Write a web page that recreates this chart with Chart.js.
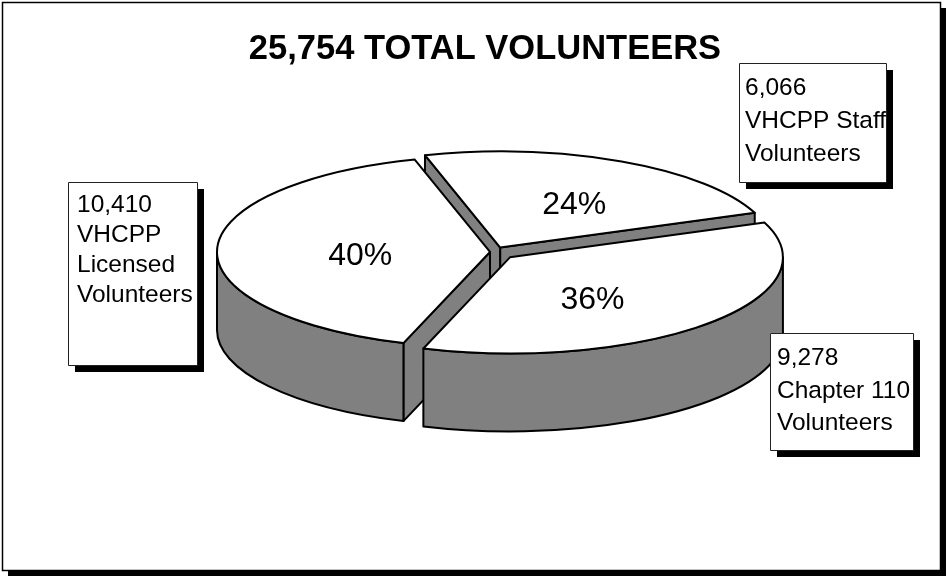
<!DOCTYPE html>
<html>
<head>
<meta charset="utf-8">
<script src="https://cdn.jsdelivr.net/npm/chart.js@4.4.1/dist/chart.umd.min.js"></script>
<style>
html,body{margin:0;padding:0;background:#fff;}
canvas{display:block;}
</style>
</head>
<body>
<canvas id="c" width="947" height="577" style="width:947px;height:577px;"></canvas>
<script>
// ---- data ----
const titleText = '25,754 TOTAL VOLUNTEERS';
const categories = ['VHCPP Staff Volunteers', 'Chapter 110 Volunteers', 'VHCPP Licensed Volunteers'];
const volunteers = [6066, 9278, 10410];
const percentLabels = ['24%', '36%', '40%'];
const boxLines = [
  ['6,066', 'VHCPP Staff', 'Volunteers'],
  ['9,278', 'Chapter 110', 'Volunteers'],
  ['10,410', 'VHCPP', 'Licensed', 'Volunteers']
];

// ---- style / layout ----
const FONT = '"Liberation Sans", Arial, Helvetica, sans-serif';
const CY = 252;          // vertical centre of the tilted pie
const K = 0.352;         // vertical squash of the pie plane
const DEPTH = 78;        // thickness of the pie in pixels
const explode = [14, 22, 4];
const labelFrac = [0.54, 0.516, 0.476];
const labelShift = [3.7, 10.5, -3.5];   // degrees
const WALL = '#808080';
const boxes = [
  {x: 739, y: 63, w: 147, h: 119, tx: 745, first: 95, step: 33},
  {x: 770, y: 333, w: 143, h: 117, tx: 777, first: 365, step: 32.5},
  {x: 68, y: 182, w: 129, h: 183, tx: 77, first: 212, step: 30}
];

function sy(y) { return CY + (y - CY) * K; }

const pie3d = {
  id: 'pie3d',
  afterUpdate(chart) {
    const meta = chart.getDatasetMeta(0);
    meta.data.forEach((arc, i) => {
      const mid = (arc.startAngle + arc.endAngle) / 2;
      arc.x += Math.cos(mid) * explode[i];
      arc.y += Math.sin(mid) * explode[i];
    });
  },
  beforeDraw(chart) {
    const ctx = chart.ctx;
    ctx.save();
    ctx.fillStyle = '#fff';
    ctx.fillRect(0, 0, chart.width, chart.height);
    // frame shadow
    ctx.fillStyle = '#000';
    ctx.fillRect(941, 8, 5, 567);
    ctx.fillRect(8, 571, 938, 5);
    // frame
    ctx.strokeStyle = '#000';
    ctx.lineWidth = 1.5;
    ctx.strokeRect(2.5, 2.5, 938, 568);
    // title
    ctx.fillStyle = '#000';
    ctx.font = 'bold 34.5px ' + FONT;
    ctx.textAlign = 'center';
    ctx.textBaseline = 'alphabetic';
    ctx.fillText(titleText, 485, 59);
    ctx.restore();
  },
  beforeDatasetsDraw(chart) {
    const ctx = chart.ctx;
    const meta = chart.getDatasetMeta(0);
    const order = meta.data.map((a, i) => i).sort((a, b) => {
      const A = meta.data[a], B = meta.data[b];
      return Math.sin((A.startAngle + A.endAngle) / 2) - Math.sin((B.startAngle + B.endAngle) / 2);
    });
    ctx.save();
    ctx.lineWidth = 2;
    ctx.lineJoin = 'round';
    ctx.strokeStyle = '#000';
    ctx.fillStyle = WALL;
    order.forEach(i => {
      const arc = meta.data[i];
      const cx = arc.x, cy = sy(arc.y), R = arc.outerRadius, ry = R * K;
      const s = arc.startAngle, e = arc.endAngle;
      const face = a => {
        const px = cx + R * Math.cos(a), py = cy + ry * Math.sin(a);
        ctx.beginPath();
        ctx.moveTo(cx, cy);
        ctx.lineTo(px, py);
        ctx.lineTo(px, py + DEPTH);
        ctx.lineTo(cx, cy + DEPTH);
        ctx.closePath();
        ctx.fill();
        ctx.stroke();
      };
      if (Math.cos(s) < 0) face(s);
      if (Math.cos(e) > 0) face(e);
      for (let n = -1; n <= 1; n++) {
        const lo = Math.max(s, 2 * Math.PI * n);
        const hi = Math.min(e, 2 * Math.PI * n + Math.PI);
        if (hi > lo) {
          ctx.beginPath();
          ctx.ellipse(cx, cy, R, ry, 0, lo, hi, false);
          ctx.lineTo(cx + R * Math.cos(hi), cy + DEPTH + ry * Math.sin(hi));
          ctx.ellipse(cx, cy + DEPTH, R, ry, 0, hi, lo, true);
          ctx.closePath();
          ctx.fill();
          ctx.stroke();
        }
      }
    });
    ctx.restore();
    // squash the library-drawn top faces
    ctx.save();
    ctx.translate(0, CY);
    ctx.scale(1, K);
    ctx.translate(0, -CY);
  },
  afterDatasetsDraw(chart) {
    const ctx = chart.ctx;
    ctx.restore();
    const meta = chart.getDatasetMeta(0);
    ctx.save();
    ctx.lineWidth = 2;
    ctx.lineJoin = 'round';
    ctx.strokeStyle = '#000';
    meta.data.forEach(arc => {
      const cx = arc.x, cy = sy(arc.y), R = arc.outerRadius, ry = R * K;
      ctx.beginPath();
      ctx.moveTo(cx, cy);
      ctx.lineTo(cx + R * Math.cos(arc.startAngle), cy + ry * Math.sin(arc.startAngle));
      ctx.ellipse(cx, cy, R, ry, 0, arc.startAngle, arc.endAngle, false);
      ctx.closePath();
      ctx.stroke();
    });
    // percentage labels
    ctx.fillStyle = '#000';
    ctx.font = '32px ' + FONT;
    ctx.textAlign = 'center';
    ctx.textBaseline = 'alphabetic';
    meta.data.forEach((arc, i) => {
      const mid = (arc.startAngle + arc.endAngle) / 2 + labelShift[i] * Math.PI / 180;
      const r = arc.outerRadius * labelFrac[i];
      const x = arc.x + r * Math.cos(mid);
      const y = sy(arc.y) + r * K * Math.sin(mid);
      ctx.fillText(percentLabels[i], x, y + 11.5);
    });
    // callout boxes
    boxes.forEach((b, i) => {
      ctx.fillStyle = '#000';
      ctx.fillRect(b.x + 7, b.y + 7, b.w, b.h);
      ctx.fillStyle = '#fff';
      ctx.fillRect(b.x, b.y, b.w, b.h);
      ctx.strokeStyle = '#222';
      ctx.lineWidth = 1;
      ctx.strokeRect(b.x + 0.5, b.y + 0.5, b.w, b.h);
      ctx.save();
      ctx.beginPath();
      ctx.rect(b.x + 1, b.y + 1, b.w - 1, b.h - 1);
      ctx.clip();
      ctx.fillStyle = '#000';
      ctx.font = '24.5px ' + FONT;
      ctx.textAlign = 'left';
      boxLines[i].forEach((t, j) => ctx.fillText(t, b.tx, b.first + j * b.step));
      ctx.restore();
    });
    ctx.restore();
  }
};

new Chart(document.getElementById('c'), {
  type: 'pie',
  data: {
    labels: categories,
    datasets: [{
      data: volunteers,
      backgroundColor: '#ffffff',
      borderWidth: 0,
      clip: false
    }]
  },
  options: {
    responsive: false,
    animation: false,
    events: [],
    devicePixelRatio: 1,
    rotation: -16,
    radius: 273,
    layout: {padding: {left: 41, right: 0, top: 0, bottom: 73}},
    plugins: {
      legend: {display: false},
      tooltip: {enabled: false},
      title: {display: false}
    }
  },
  plugins: [pie3d]
});
</script>
</body>
</html>
